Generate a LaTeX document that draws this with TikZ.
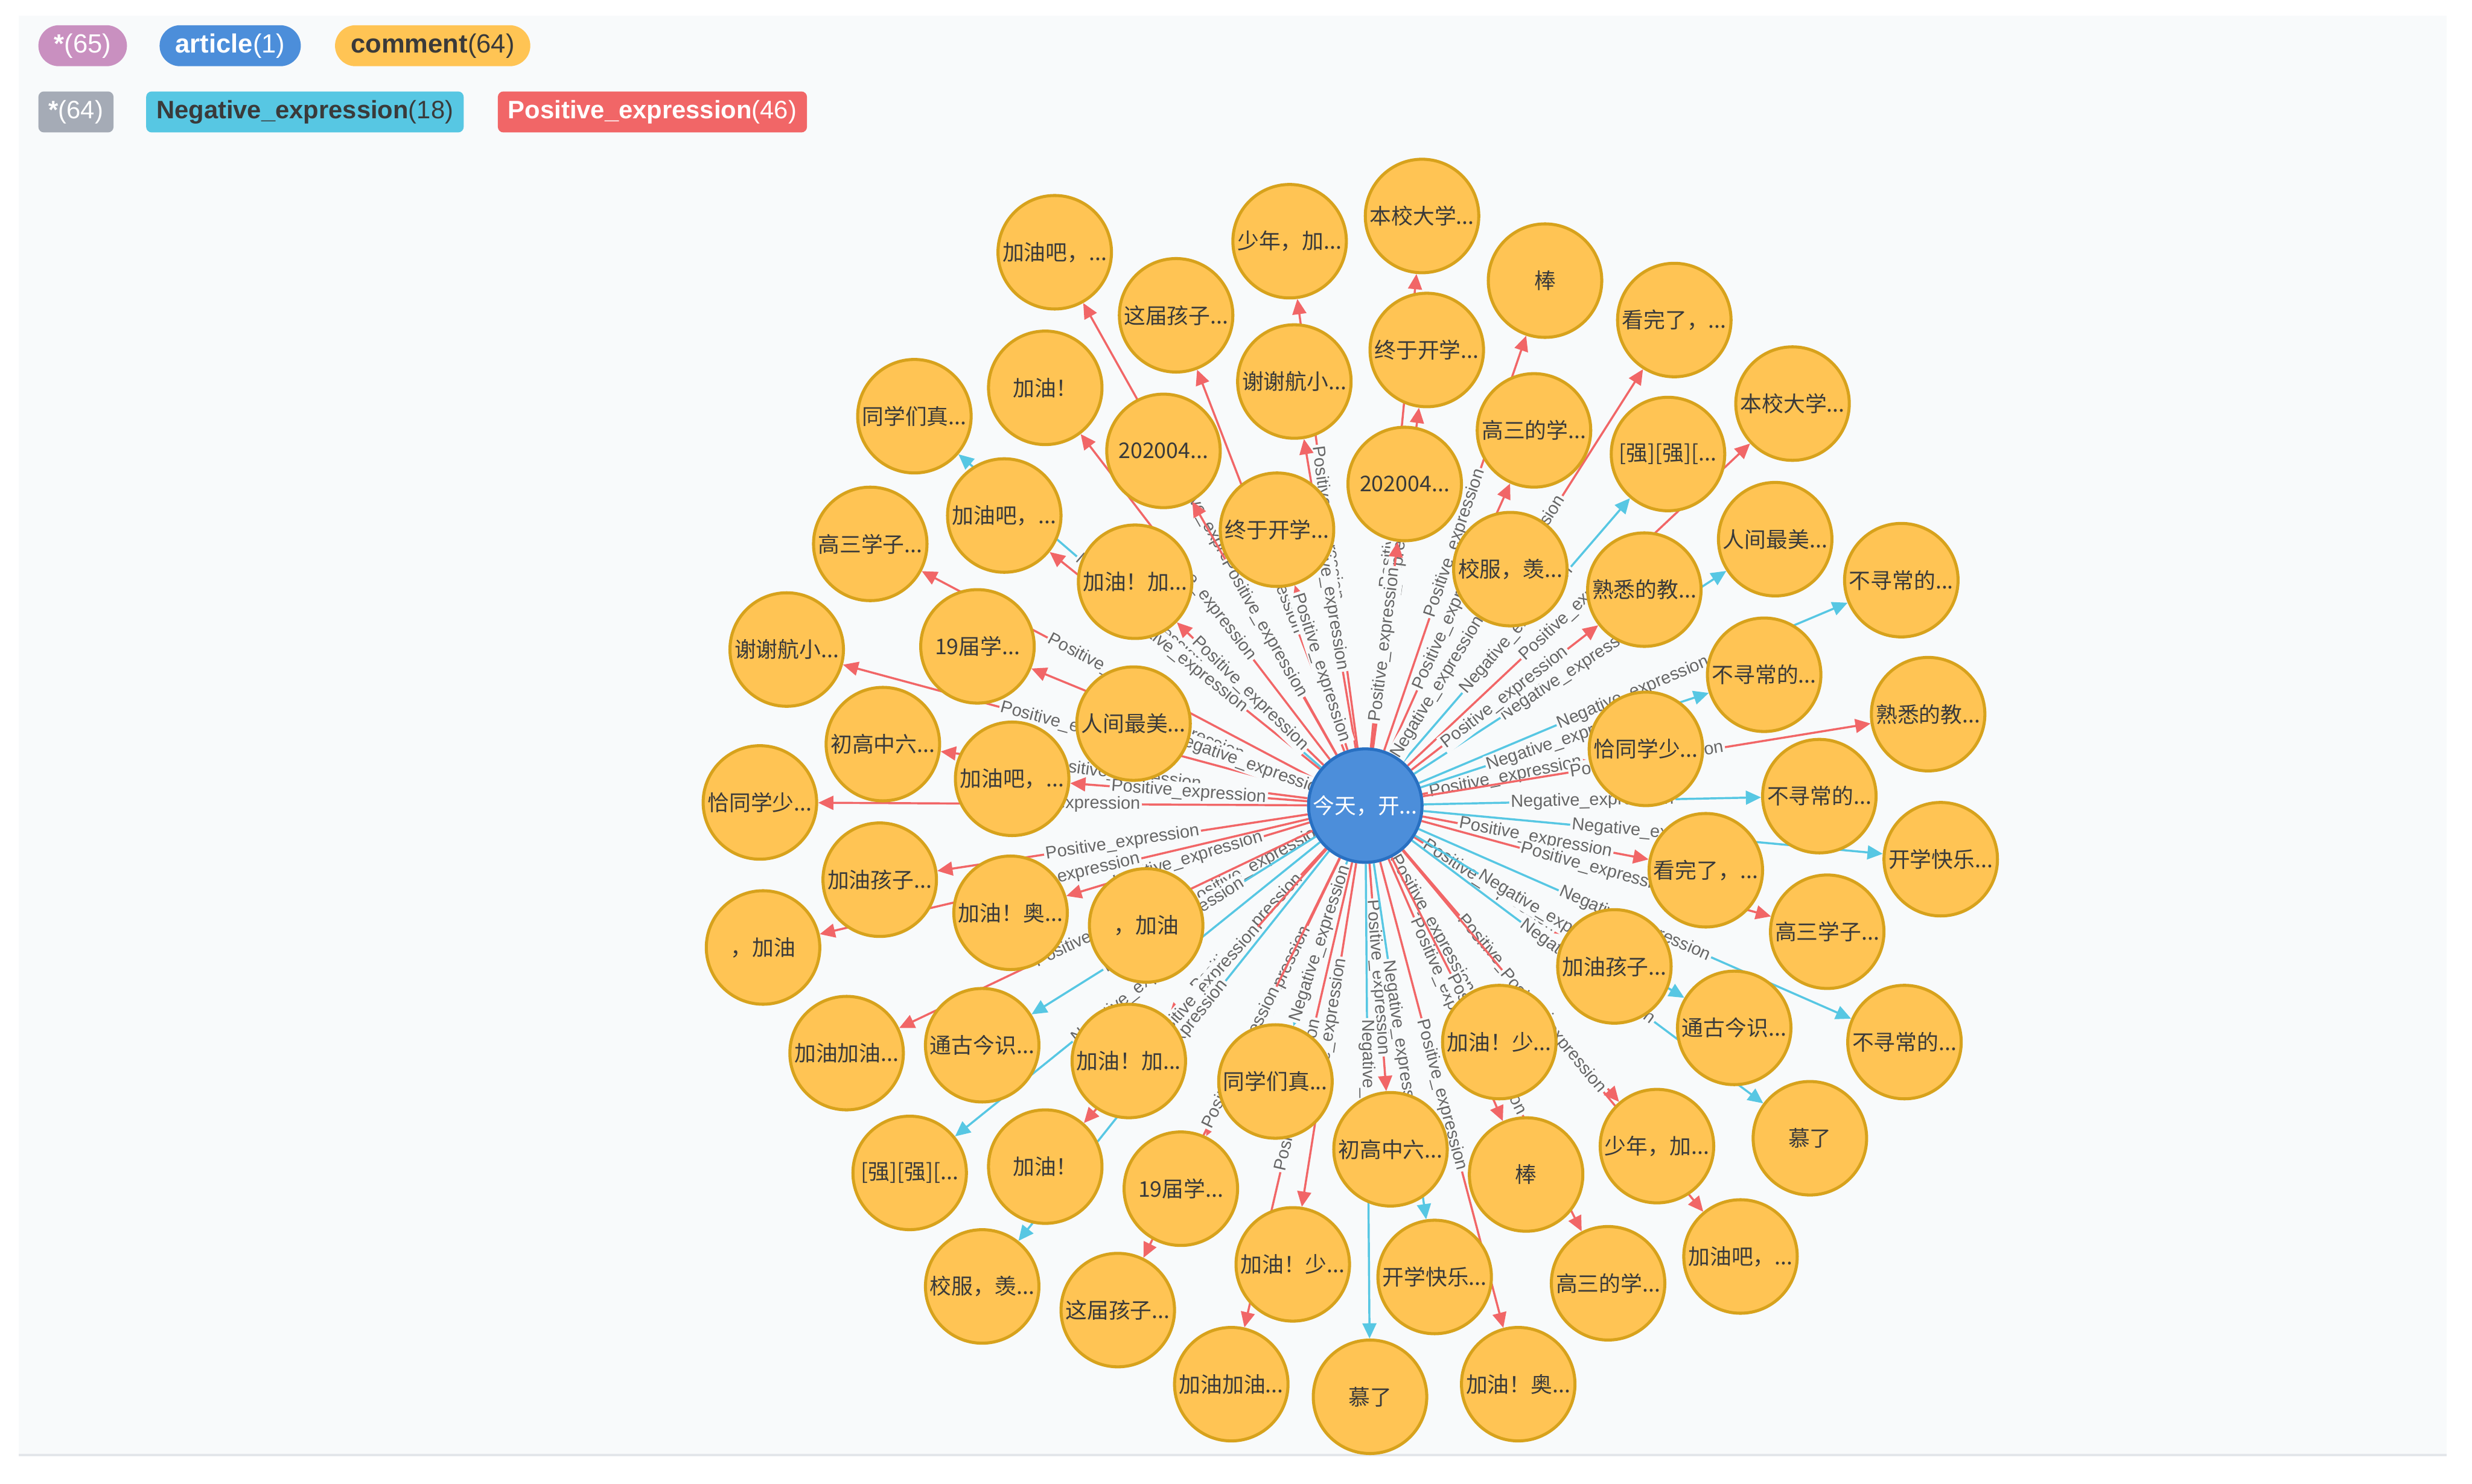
\documentclass[tikz,border=0pt]{standalone}
\usepackage{fontspec}
\setmainfont{Liberation Sans}
\newfontfamily\cjkfont{Noto Sans CJK SC}
\usepackage{xcolor}
\usetikzlibrary{arrows.meta, positioning}
\definecolor{posred}{HTML}{F16667}
\definecolor{negcyan}{HTML}{57C7E3}
\definecolor{commentfill}{HTML}{FFC454}
\definecolor{commentedge}{HTML}{D7A21C}
\definecolor{articlefill}{HTML}{4C8EDA}
\definecolor{articleedge}{HTML}{2870C2}
\definecolor{starpink}{HTML}{C990C0}
\definecolor{stargray}{HTML}{A5ABB6}
\definecolor{panelbg}{HTML}{F8FAFB}
\definecolor{panelline}{HTML}{E3E6EA}
\definecolor{labelgray}{HTML}{666666}
\definecolor{nodetext}{HTML}{3A3A3A}
\pgfdeclarelayer{panel}
\pgfdeclarelayer{edges}
\pgfsetlayers{panel,edges,main}
\tikzset{
  legend/.style={anchor=west, minimum height=0.52cm, inner ysep=0pt},
  pill/.style={legend, rounded corners=0.26cm, inner xsep=0.2cm,
               font=\fontsize{9.5}{11}\selectfont},
  tag/.style={legend, rounded corners=0.07cm, inner xsep=0.13cm,
              font=\fontsize{9.1}{11}\selectfont},
  Positive/.style={draw=posred},
  Negative/.style={draw=negcyan},
}
\begin{document}
\begin{tikzpicture}[x=0.02cm, y=-0.02cm,
  comment/.style={circle, draw=commentedge, fill=commentfill, line width=1.1pt,
                  minimum size=1.44cm, inner sep=0pt, text=nodetext,
                  font=\cjkfont\fontsize{7.8}{9}\selectfont},
  article/.style={comment, draw=articleedge, fill=articlefill, text=white},
  rel/.style={line width=0.75pt, -{Triangle[length=5.5pt,width=5pt]}},
  elabel/.style={midway, sloped, fill=panelbg, inner sep=0.6pt, text=labelgray,
                 font=\fontsize{6.3}{7}\selectfont}]

  \useasboundingbox (0,0) rectangle (1568,941);
  \begin{pgfonlayer}{panel}
    \fill[panelbg] (12,10) rectangle (1552,923);
    \draw[panelline, line width=0.8pt] (12,923) -- (1552,923);
  \end{pgfonlayer}

  %% ─── Legend ───────────────────────────────────────────────────────────────
  \node[pill, fill=starpink, text=white] (lgall) at (24,29) {{\bfseries *}(65)};
  \node[pill, fill=articlefill, text=white, right=0.4cm of lgall] (lgart) {{\bfseries article}(1)};
  \node[pill, fill=commentfill, text=nodetext, right=0.42cm of lgart] (lgcom) {{\bfseries comment}(64)};

  \node[tag, fill=stargray, text=white] (lgrel) at (24,71) {{\bfseries *}(64)};
  \node[tag, fill=negcyan, text=nodetext, right=0.4cm of lgrel] (lgneg) {{\bfseries Negative\_expression}(18)};
  \node[tag, fill=posred, text=white, right=0.42cm of lgneg] (lgpos) {{\bfseries Positive\_expression}(46)};

  %% ─── Graph ────────────────────────────────────────────────────────────────
  \node[article] (art) at (866,511) {今天，开...};

  \foreach \n/\px/\py/\txt/\et in {
      1/669/160/{加油吧，...}/Positive, 2/746/200/{这届孩子...}/Positive,
      3/818/153/{少年，加...}/Positive, 4/902/137/{本校大学...}/Positive,
      5/980/178/{棒}/Positive, 6/1062/203/{看完了，...}/Positive,
      7/1137/256/{本校大学...}/Positive, 8/663/246/{加油！}/Positive,
      9/580/264/{同学们真...}/Negative, 10/738/286/{202004...}/Positive,
      11/821/242/{谢谢航小...}/Positive, 12/905/222/{终于开学...}/Positive,
      13/973/273/{高三的学...}/Positive, 14/1058/288/{[强][强][...}/Negative,
      15/1126/342/{人间最美...}/Negative, 16/1206/368/{不寻常的...}/Negative,
      17/637/327/{加油吧，...}/Positive, 18/552/345/{高三学子...}/Positive,
      19/810/336/{终于开学...}/Positive, 20/891/307/{202004...}/Positive,
      21/958/361/{校服，羡...}/Negative, 22/1043/374/{熟悉的教...}/Positive,
      23/720/369/{加油！加...}/Positive, 24/620/410/{19届学...}/Positive,
      25/499/412/{谢谢航小...}/Positive, 26/719/459/{人间最美...}/Negative,
      27/560/472/{初高中六...}/Positive, 28/642/494/{加油吧，...}/Positive,
      29/482/509/{恰同学少...}/Positive, 30/558/558/{加油孩子...}/Positive,
      31/641/579/{加油！奥...}/Positive, 32/727/587/{，加油}/Positive,
      33/484/601/{，加油}/Positive, 34/537/668/{加油加油...}/Positive,
      35/623/663/{通古今识...}/Negative, 36/716/673/{加油！加...}/Positive,
      37/809/686/{同学们真...}/Negative, 38/577/744/{[强][强][...}/Negative,
      39/663/740/{加油！}/Positive, 40/749/754/{19届学...}/Positive,
      41/882/729/{初高中六...}/Positive, 42/951/661/{加油！少...}/Positive,
      43/1024/613/{加油孩子...}/Positive, 44/1082/552/{看完了，...}/Positive,
      45/1044/475/{恰同学少...}/Positive, 46/1119/428/{不寻常的...}/Negative,
      47/1223/453/{熟悉的教...}/Positive, 48/1154/505/{不寻常的...}/Negative,
      49/1231/545/{开学快乐...}/Negative, 50/1159/591/{高三学子...}/Positive,
      51/1100/652/{通古今识...}/Negative, 52/1208/661/{不寻常的...}/Negative,
      53/1148/722/{慕了}/Negative, 54/1051/727/{少年，加...}/Positive,
      55/968/745/{棒}/Positive, 56/1020/814/{高三的学...}/Positive,
      57/1104/797/{加油吧，...}/Positive, 58/910/810/{开学快乐...}/Negative,
      59/820/802/{加油！少...}/Positive, 60/709/831/{这届孩子...}/Positive,
      61/781/878/{加油加油...}/Positive, 62/869/886/{慕了}/Negative,
      63/963/878/{加油！奥...}/Positive, 64/623/816/{校服，羡...}/Negative} {
    \node[comment] (c\n) at (\px,\py) {\txt};
    % connector sits under the circles
    \begin{pgfonlayer}{edges}
      \draw[rel, \et] (art) -- (c\n) node[elabel] {\et\_expression};
    \end{pgfonlayer}
  }
\end{tikzpicture}
\end{document}
